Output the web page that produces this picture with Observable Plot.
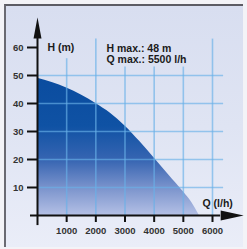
<!DOCTYPE html>
<html><head><meta charset="utf-8">
<script src="https://cdn.jsdelivr.net/npm/d3@7"></script>
<script src="https://cdn.jsdelivr.net/npm/@observablehq/plot@0.6"></script>
<style>
html,body{margin:0;padding:0;background:#f3f3f7;}
#wrap{position:relative;width:247px;height:249px;overflow:hidden;}
#panel{position:absolute;left:4px;top:4px;width:237px;height:241px;
 background:linear-gradient(180deg,#d8def0 0%,#dfe4f3 50%,#eaedf8 100%);
 border-top:2px solid #5c5c64;border-left:2px solid #6a6a72;}
#chart{position:absolute;left:0;top:0;}
</style></head>
<body><div id="wrap"><div id="panel"></div><div id="chart"></div></div>
<script>
// curve data: Q (l/h) vs H (m)
const flow = [0, 500, 1000, 1500, 2000, 2500, 3000, 3500, 4000, 4500, 5000, 5300, 5550];
const head = [49, 47.5, 45.5, 43, 40, 36.5, 32, 26.5, 20.5, 14.5, 8.5, 4.5, 0];
const xTicks = [1000, 2000, 3000, 4000, 5000, 6000];
const yTicks = [10, 20, 30, 40, 50, 60];
const hGrid = [10, 20, 30, 40, 50];
const vGridTop = [56, 63, 53, 53, 53, 63];
const annotations = [
  {q: 343, h: 58.6, label: "H (m)"},
  {q: 2366, h: 58.5, label: "H max.: 48 m"},
  {q: 2366, h: 54.4, label: "Q max.: 5500 l/h"},
  {q: 5657, h: 3.0, label: "Q (l/h)"}
];
const xAxisExtent = [-240, 6280];
const yAxisExtent = [-3.6, 63.2];
const gridRight = 6380;

const curve = flow.map((q, i) => ({q, h: head[i]}));

const arrowRight = {draw(ctx){ctx.moveTo(23,0);ctx.lineTo(0,-5);ctx.lineTo(0,5);ctx.closePath();}};
const arrowUp = {draw(ctx){ctx.moveTo(0,-21);ctx.lineTo(-4,0);ctx.lineTo(4,0);ctx.closePath();}};

const defs = () => {
  const d = d3.create("svg:defs");
  const g = d.append("linearGradient").attr("id","areaGrad").attr("x1",0).attr("y1",0).attr("x2",0).attr("y2",1);
  [[0,"#0a4c9f"],[0.35,"#0f52a4"],[0.6,"#3765b2"],[0.8,"#7a93cc"],[1,"#b4c0e5"]]
    .forEach(([o,c]) => g.append("stop").attr("offset",o).attr("stop-color",c));
  return d.node();
};

const gridColor = "rgb(104,176,232)";
const font = "'Liberation Sans', Arial, sans-serif";

const chart = Plot.plot({
  width: 247, height: 249,
  marginLeft: 37, marginBottom: 34, marginTop: 0, marginRight: 0,
  style: {background: "transparent", fontFamily: font},
  x: {domain: [0, 6000], range: [37, 212]},
  y: {domain: [0, 60], range: [215, 47]},
  marks: [
    defs,
    Plot.areaY(curve, {x: "q", y: "h", fill: "url(#areaGrad)", curve: "monotone-x"}),
    Plot.ruleY(hGrid, {x1: 0, x2: gridRight, stroke: gridColor, strokeOpacity: 0.65, strokeWidth: 1.6}),
    Plot.ruleX(xTicks.map((q,i)=>({q, top: vGridTop[i]})), {x: "q", y1: 0, y2: "top", stroke: gridColor, strokeOpacity: 0.65, strokeWidth: 1.6}),
    Plot.ruleY([0], {x1: xAxisExtent[0], x2: xAxisExtent[1], stroke: "#111", strokeWidth: 2}),
    Plot.ruleX([0], {y1: yAxisExtent[0], y2: yAxisExtent[1], stroke: "#111", strokeWidth: 2}),
    Plot.dot([{q: xAxisExtent[1], h: 0}], {x: "q", y: "h", symbol: arrowRight, r: 5, fill: "#111", stroke: "none"}),
    Plot.dot([{q: 0, h: yAxisExtent[1]}], {x: "q", y: "h", symbol: arrowUp, r: 5, fill: "#111", stroke: "none"}),
    Plot.axisY({ticks: yTicks, tickSize: 10, tickPadding: 4, strokeWidth: 2, stroke: "#111", fill: "#333", fontSize: 9.5, fontWeight: "bold", label: null, tickFormat: d => d}),
    Plot.axisX({ticks: xTicks, tickSize: 7, tickPadding: 5, strokeWidth: 2, stroke: "#111", fill: "#333", fontSize: 9.5, fontWeight: "bold", label: null, tickFormat: d => String(d)}),
    Plot.text(annotations, {x: "q", y: "h", text: "label", textAnchor: "start", lineAnchor: "bottom", fontSize: 10.5, fontWeight: "bold", fill: "#1a1a1a"})
  ]
});
document.getElementById("chart").appendChild(chart);
</script></body></html>
